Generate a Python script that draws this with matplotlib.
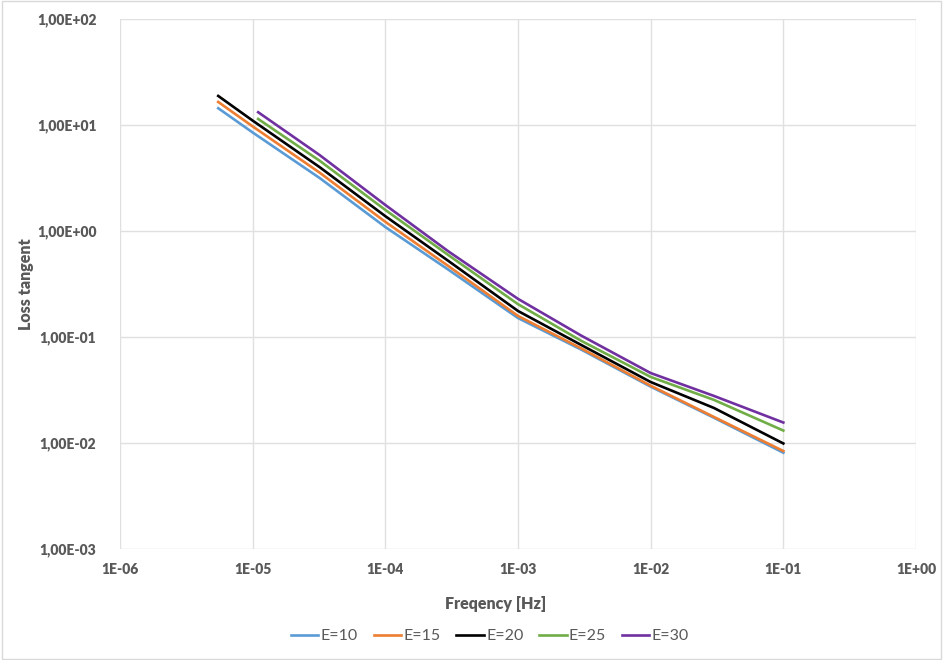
import matplotlib
matplotlib.use("Agg")
import matplotlib.pyplot as plt
from matplotlib.ticker import FixedLocator, FuncFormatter, NullLocator
from matplotlib.patches import Rectangle

plt.rcParams["font.family"] = ["Lato", "DejaVu Sans"]
plt.rcParams["font.weight"] = "heavy"

# ---- data ----
freq_a = [5.5e-6, 1e-5, 3.2e-5, 1e-4, 3e-4, 1e-3, 3e-3, 1e-2, 3e-2, 1e-1]
freq_b = [1.1e-5, 3.2e-5, 1e-4, 3e-4, 1e-3, 3e-3, 1e-2, 3e-2, 1e-1]

e10 = [14.4, 8.5, 3.16, 1.09, 0.43, 0.151, 0.076, 0.034, 0.0173, 0.0081]
e15 = [16.5, 9.7, 3.55, 1.22, 0.465, 0.158, 0.078, 0.0347, 0.0176, 0.0084]
e20 = [18.8, 11.0, 4.0, 1.38, 0.52, 0.176, 0.084, 0.0376, 0.0214, 0.0099]
e25 = [11.4, 4.6, 1.58, 0.59, 0.204, 0.092, 0.042, 0.0255, 0.0131]
e30 = [13.2, 5.2, 1.76, 0.64, 0.229, 0.103, 0.0457, 0.0278, 0.0156]

series_labels = ["E=10", "E=15", "E=20", "E=25", "E=30"]
x_ticks = [1e-6, 1e-5, 1e-4, 1e-3, 1e-2, 1e-1, 1e0]
y_ticks = [1e-3, 1e-2, 1e-1, 1e0, 1e1, 1e2]

colors = ["#5B9BD5", "#ED7D31", "#000000", "#70AD47", "#7030A0"]
label_color = "#595959"

fig = plt.figure(figsize=(9.43, 6.6), dpi=100)
ax = fig.add_axes([120/943, 1 - 549/660, (916-120)/943, (549-19)/660])

xs = [freq_a, freq_a, freq_a, freq_b, freq_b]
ys = [e10, e15, e20, e25, e30]
for x, y, c, lab in zip(xs, ys, colors, series_labels):
    ax.plot(x, y, color=c, lw=1.9, label=lab, solid_joinstyle="round")

ax.set_xscale("log")
ax.set_yscale("log")
ax.set_xlim(1e-6, 1e0)
ax.set_ylim(1e-3, 1e2)

ax.xaxis.set_major_locator(FixedLocator(x_ticks))
ax.yaxis.set_major_locator(FixedLocator(y_ticks))
ax.xaxis.set_minor_locator(NullLocator())
ax.yaxis.set_minor_locator(NullLocator())
ax.xaxis.set_major_formatter(FuncFormatter(lambda v, p: f"{v:.0E}"))
ax.yaxis.set_major_formatter(FuncFormatter(lambda v, p: f"{v:.2E}".replace(".", ",")))

ax.grid(True, color="#E0E0E0", lw=1.0)
ax.set_axisbelow(True)
for s in ax.spines.values():
    s.set_visible(False)

ax.tick_params(axis="both", length=0, labelsize=10, labelcolor=label_color)
ax.tick_params(axis="y", pad=17)
ax.tick_params(axis="x", pad=10)

ax.set_xlabel("Freqency [Hz]", fontsize=11.5, fontweight="heavy", color=label_color)
ax.set_ylabel("Loss tangent", fontsize=11.5, fontweight="heavy", color=label_color)
ax.xaxis.set_label_coords((496 - 120) / 796, (549 - 596) / 530)
ax.yaxis.set_label_coords((34 - 120) / 796, (549 - 284) / 530)

leg = fig.legend(loc="center", bbox_to_anchor=(490/943, 1 - 636/660), ncol=5, frameon=False,
                 prop={"size": 11.5, "weight": "normal"},
                 handlelength=1.7, handletextpad=0.15, columnspacing=1.0)
for t in leg.get_texts():
    t.set_color(label_color)

fig.patches.append(Rectangle((0.002, 0.002), 0.996, 0.996, transform=fig.transFigure,
                             fill=False, edgecolor="#D9D9D9", lw=1.0))

fig.savefig("out.png", dpi=100, facecolor="white")
